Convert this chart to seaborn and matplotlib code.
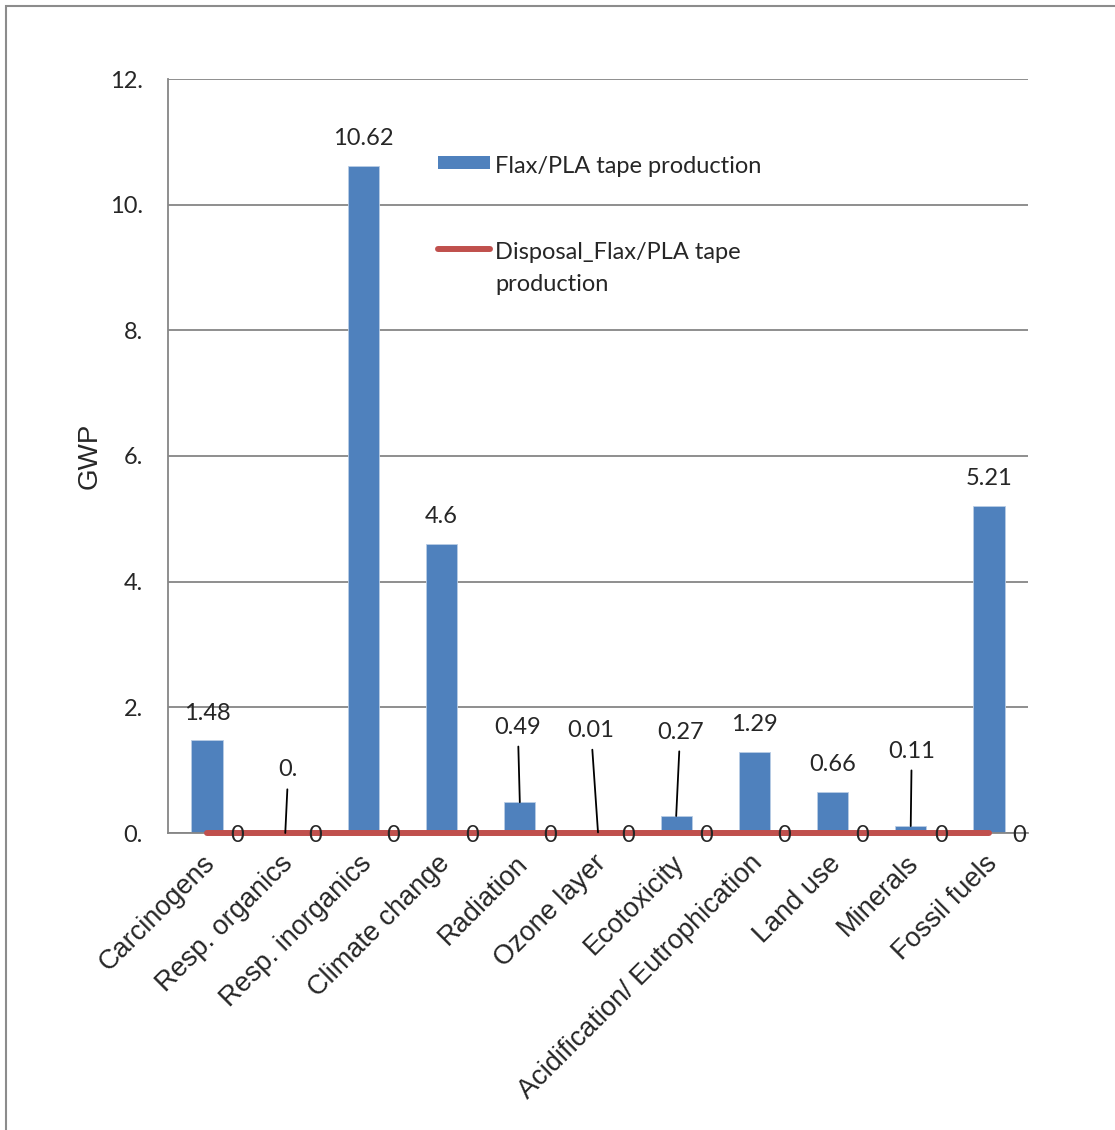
import seaborn as sns
import pandas as pd
import numpy as np
import matplotlib.pyplot as plt
import matplotlib.transforms as mtransforms
from matplotlib.lines import Line2D
from matplotlib.patches import Patch, Rectangle
from matplotlib.ticker import FuncFormatter, FixedLocator

#----- Data -----
categories = ["Carcinogens", "Resp. organics", "Resp. inorganics", "Climate change",
              "Radiation", "Ozone layer", "Ecotoxicity", "Acidification/ Eutrophication",
              "Land use", "Minerals", "Fossil fuels"]
production = [1.48, 0.0, 10.62, 4.6, 0.49, 0.01, 0.27, 1.29, 0.66, 0.11, 5.21]
production_labels = ["1.48", "0.", "10.62", "4.6", "0.49", "0.01", "0.27", "1.29", "0.66", "0.11", "5.21"]
disposal = [0, 0, 0, 0, 0, 0, 0, 0, 0, 0, 0]
disposal_labels = ["0"] * 11
yticks = [0, 2, 4, 6, 8, 10, 12]

# labels pulled up with a leader line (offset in pixels)
callouts = {1: (3, 63), 4: (-2, 75), 5: (-7, 102), 6: (4, 84), 9: (1, 75)}

BLUE = "#4F81BD"
RED = "#C0504D"
GRID = "#868686"
CAL = "Lato"
ARIAL = "Liberation Sans"

df = pd.DataFrame({"category": categories, "value": production})

#----- Plot -----
sns.set_style("white")
plt.rcParams['font.family'] = [CAL, 'DejaVu Sans']

fig = plt.figure(figsize=(11.15, 11.3), dpi=100)
ax = fig.add_axes([168 / 1115, 1 - 833 / 1130, (1028 - 168) / 1115, (833 - 79) / 1130])

sns.barplot(data=df, x="category", y="value", color=BLUE, width=0.4, saturation=1,
            edgecolor="#B9CDE5", linewidth=0.6, ax=ax, zorder=2)
sns.lineplot(x=np.arange(len(categories)), y=disposal, color=RED, linewidth=4.3,
             ax=ax, zorder=3, solid_capstyle="round", clip_on=False)

ax.set_xlim(-0.5, len(categories) - 0.5)
ax.set_ylim(0, 12)
ax.yaxis.set_major_locator(FixedLocator(yticks))
ax.yaxis.set_major_formatter(FuncFormatter(lambda v, p: f"{int(v)}."))
ax.grid(axis="y", color=GRID, linewidth=1.3, zorder=0)
ax.set_axisbelow(True)

for s in ["top", "right"]:
    ax.spines[s].set_visible(False)
for s in ["left", "bottom"]:
    ax.spines[s].set_color(GRID)
    ax.spines[s].set_linewidth(1.3)

ax.tick_params(axis="y", length=6, width=1.3, color=GRID, direction="out", labelsize=17, pad=12)
ax.set_xticks(np.arange(len(categories)))
ax.set_xticklabels(categories, rotation=45, ha="right", rotation_mode="anchor",
                   fontsize=19.5, family=ARIAL)
ax.tick_params(axis="x", length=0, pad=12.5)
shift = mtransforms.ScaledTranslation(-5 / 100, 0, fig.dpi_scale_trans)
for lbl in ax.get_xticklabels():
    lbl.set_transform(lbl.get_transform() + shift)
ax.set_xticks(np.arange(-0.5, len(categories), 1), minor=True)
ax.tick_params(axis="x", which="minor", length=6, width=1.3, color=GRID, direction="out")

ax.set_xlabel("")
ax.set_ylabel("GWP", fontsize=20, family=ARIAL, labelpad=5)

# data labels
for i, (v, lab) in enumerate(zip(production, production_labels)):
    if i in callouts:
        dx, dy = callouts[i]
        ax.annotate(lab, xy=(i, v), xytext=(dx, dy), textcoords="offset pixels",
                    ha="center", va="center", fontsize=17, zorder=5,
                    arrowprops=dict(arrowstyle="-", color="black", lw=1.3,
                                    shrinkA=4, shrinkB=0))
    else:
        ax.annotate(lab, xy=(i, v), xytext=(0, 27), textcoords="offset pixels",
                    ha="center", va="center", fontsize=17, zorder=5)

for i, (v, lab) in enumerate(zip(disposal, disposal_labels)):
    ax.annotate(lab, xy=(i, v), xytext=(30, -2), textcoords="offset pixels",
                ha="center", va="center", fontsize=17, zorder=5)

# legend
handles = [Patch(facecolor=BLUE, edgecolor="none"),
           Line2D([0], [0], color=RED, linewidth=4.3, solid_capstyle="round")]
labels = ["Flax/PLA tape production", "Disposal_Flax/PLA tape\nproduction"]
leg = ax.legend(handles, labels, loc="upper left", bbox_to_anchor=(0.314, 0.898),
                frameon=False, fontsize=17, handlelength=2.2, handletextpad=0.22,
                labelspacing=2.75, borderpad=0, borderaxespad=0, handleheight=0.5)
for t in leg.get_texts():
    t.set_linespacing(1.65)
for col in leg._legend_handle_box.get_children():
    for row in col.get_children():
        row.align = "top"

# chart area border
fig.patches.append(Rectangle((6 / 1115, -0.1), 1.2, 1.1 - 6 / 1130, transform=fig.transFigure,
                             fill=False, edgecolor="#8C8C8C", linewidth=1.5))

plt.savefig("out.png", dpi=100)
